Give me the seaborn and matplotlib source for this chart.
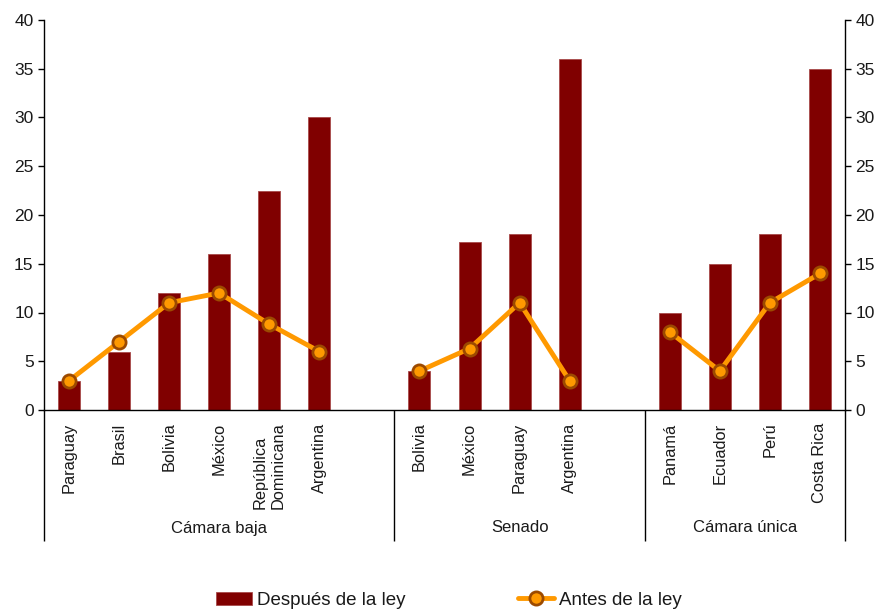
import matplotlib
matplotlib.use("Agg")
import matplotlib.pyplot as plt
from matplotlib.patches import Patch
from matplotlib.lines import Line2D
import seaborn as sns
import pandas as pd
import numpy as np

# ---- data ----
grupos = ["Cámara baja", "Senado", "Cámara única"]
paises_baja = ["Paraguay", "Brasil", "Bolivia", "México", "República\nDominicana", "Argentina"]
paises_senado = ["Bolivia", "México", "Paraguay", "Argentina"]
paises_unica = ["Panamá", "Ecuador", "Perú", "Costa Rica"]
despues_baja = [3, 6, 12, 16, 22.5, 30]
despues_senado = [4, 17.2, 18, 36]
despues_unica = [10, 15, 18, 35]
antes_baja = [3, 7, 11, 12, 8.8, 6]
antes_senado = [4, 6.3, 11, 3]
antes_unica = [8, 4, 11, 14]
yticks = [0, 5, 10, 15, 20, 25, 30, 35, 40]

# ---- build table (one blank slot after each group except the last) ----
rows = []
bounds = [-0.5]
centers = []
start = 0
groups = [(grupos[0], paises_baja, despues_baja, antes_baja),
          (grupos[1], paises_senado, despues_senado, antes_senado),
          (grupos[2], paises_unica, despues_unica, antes_unica)]
for gi, (g, paises, dv, av) in enumerate(groups):
    for i, (p, d, a) in enumerate(zip(paises, dv, av)):
        rows.append(dict(grupo=g, pais=p, pos=start + i, despues=d, antes=a))
    size = len(paises) + (1 if gi < len(groups) - 1 else 0)
    end = start + size - 0.5
    centers.append((bounds[-1] + end) / 2)
    bounds.append(end)
    start += size
df = pd.DataFrame(rows)

sns.set_style("white")
plt.rcParams["font.family"] = ["Liberation Sans", "DejaVu Sans"]
TXT = "#1a1a1a"

fig = plt.figure(figsize=(8.81, 6.13), dpi=100)
ax = fig.add_axes([44 / 881, 1 - 410 / 613, (845 - 44) / 881, 390 / 613])

BAR = "#800000"
LINE = "#FF9900"
EDGE = "#9C4A00"

sns.barplot(data=df, x="pos", y="despues", native_scale=True, width=0.44,
            color=BAR, saturation=1, edgecolor="#a84a4a", linewidth=0.6, ax=ax)
sns.lineplot(data=df, x="pos", y="antes", units="grupo", estimator=None,
             color=LINE, linewidth=3.5, marker="o", markersize=9.5,
             markerfacecolor=LINE, markeredgecolor=EDGE, markeredgewidth=2,
             legend=False, ax=ax, zorder=3)

ax.set_xlim(bounds[0], bounds[-1])
ax.set_ylim(0, 40)
ax.set_yticks(yticks)
ax.set_xlabel("")
ax.set_ylabel("")

# category tick labels
ax.set_xticks(df["pos"])
ax.set_xticklabels(df["pais"], rotation=90, fontsize=11.8, color=TXT,
                   va="top", ha="center", multialignment="left")
ax.tick_params(axis="x", which="major", bottom=True, length=0, pad=9)
# group separators as long minor ticks
ax.set_xticks(bounds, minor=True)
ax.tick_params(axis="x", which="minor", bottom=True, length=94, width=1,
               color="black", direction="out")

ax.tick_params(axis="y", which="major", left=True, right=True, labelleft=True, labelright=True,
               length=4.5, width=1, color="black", direction="out", labelsize=12.5,
               labelcolor=TXT, pad=3)

for s in ["left", "right", "bottom"]:
    ax.spines[s].set_visible(True)
    ax.spines[s].set_color("black")
    ax.spines[s].set_linewidth(1)
ax.spines["top"].set_visible(False)

# group labels
for g, c in zip(grupos, centers):
    ax.annotate(g, xy=(c, 0), xycoords=("data", "axes fraction"),
                xytext=(0, -118 * 0.72), textcoords="offset points",
                ha="center", va="center", fontsize=12, color=TXT)

handles = [Patch(facecolor=BAR, edgecolor="#a84a4a", linewidth=0.6),
           Line2D([0], [0], color=LINE, linewidth=3.5, marker="o", markersize=9.5,
                  markerfacecolor=LINE, markeredgecolor=EDGE, markeredgewidth=2)]
fig.legend(handles, ["Después de la ley", "Antes de la ley"], loc="center",
           bbox_to_anchor=(0.5097, 0.021), ncol=2, frameon=False, fontsize=13.5,
           handlelength=1.9, handletextpad=0.3, columnspacing=6.0, labelcolor=TXT)

fig.savefig("out.png", dpi=100)
